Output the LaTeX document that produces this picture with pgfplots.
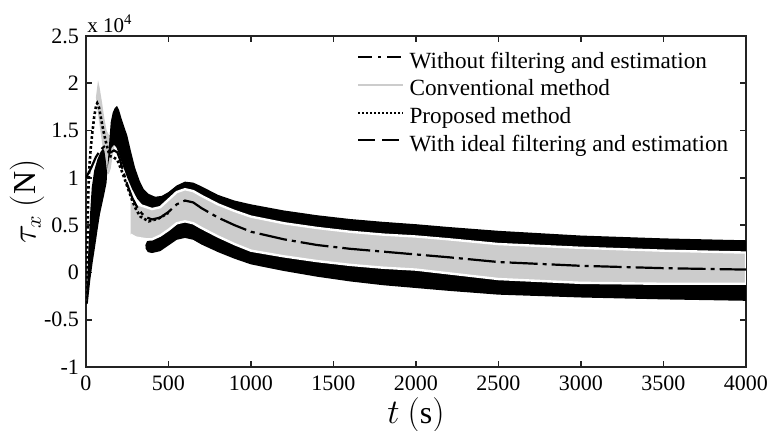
\documentclass[border=0pt]{standalone}
\usepackage{fontspec}
\setmainfont{Liberation Serif}
\usepackage{pgfplots}
\pgfplotsset{compat=1.18}
\definecolor{convgray}{RGB}{204,204,204}
\definecolor{axgray}{RGB}{35,35,35}
\begin{document}
\begin{tikzpicture}
\begin{axis}[
  name=ax, at={(0,0)}, anchor=south west,
  scale only axis, width=330pt, height=165.5pt,
  xmin=0, xmax=4000, ymin=-1, ymax=2.5,
  xtick={0,500,1000,1500,2000,2500,3000,3500,4000},
  xticklabels={0,500,1000,1500,2000,2500,3000,3500,4000},
  ytick={-1,-0.5,0,0.5,1,1.5,2,2.5},
  yticklabels={-1,-0.5,0,0.5,1,1.5,2,2.5},
  tick align=inside, major tick length=3pt,
  axis line style={axgray, line width=0.8pt},
  tick style={axgray, line width=0.8pt},
  ticklabel style={font=\fontsize{11}{13}\selectfont},
  xticklabel style={yshift=-1pt},
  xlabel={$t\ (\mathrm{s})$},
  xlabel style={at={(rel axis cs:0.5,0)}, anchor=center, yshift=-24pt, font=\fontsize{16}{18}\selectfont},
  ylabel={$\tau_x\ (\mathrm{N})$},
  ylabel style={at={([xshift=-29.5pt]rel axis cs:0,0.5)}, anchor=center, rotate=0, font=\fontsize{16}{18}\selectfont},
  legend image code/.code={\draw[#1] (0pt,3pt) -- (22.5pt,3pt);},
  legend cell align=left,
  legend style={at={(rel axis cs:0.4106,0.951)}, anchor=north west, draw=none, fill=none,
    inner sep=0pt, row sep=3pt, column sep=2.5pt,
    font=\fontsize{11.6}{13}\selectfont,
    nodes={inner sep=0pt, text height=7.8pt, text depth=3pt}},
]
\addlegendimage{black, line width=1pt, dash pattern=on 7pt off 3pt on 1.5pt off 3pt}
\addlegendentry{Without filtering and estimation}
\addlegendimage{convgray, line width=1.1pt}
\addlegendentry{Conventional method}
\addlegendimage{black, line width=1pt, dash pattern=on 1pt off 1pt}
\addlegendentry{Proposed method}
\addlegendimage{black, line width=1pt, dash pattern=on 8.5pt off 3.5pt}
\addlegendentry{With ideal filtering and estimation}

% conventional method: early spike
\addplot[forget plot, fill=convgray, draw=none] coordinates {
(60,1.85) (73,2.03) (82,1.96) (97,1.80) (112,1.62) (125,1.50) (140,1.45) (160,1.48)
(175,1.50) (180,1.40) (165,1.28) (150,1.10) (138,1.04) (125,1.05) (110,1.20) (95,1.40) (75,1.65)};

% without filtering: early oscillation envelope
\addplot[forget plot, fill=black, draw=none] coordinates {
(4,-0.34) (9,0.0) (16,0.3) (24,0.6) (35,0.9) (50,1.08) (70,1.20) (90,1.28) (104,1.31)
(112,1.28) (120,1.18) (128,1.05) (125,0.95) (110,0.82) (95,0.70) (85,0.62) (70,0.45)
(55,0.27) (40,0.10) (26,-0.08) (12,-0.31)};

% without filtering: upper envelope band
\addplot[forget plot, fill=black, draw=none] coordinates {
(130,1.10) (140,1.36) (150,1.59) (162,1.69) (175,1.74) (188,1.76) (200,1.72) (215,1.63)
(230,1.55) (250,1.45) (270,1.30) (297,1.11) (325,0.97) (350,0.88) (380,0.83) (420,0.80)
(460,0.81) (500,0.85) (550,0.92) (600,0.96) (650,0.95) (700,0.91) (800,0.82) (900,0.76)
(1000,0.72) (1200,0.655) (1400,0.605) (1600,0.565) (1800,0.535) (2000,0.51) (2200,0.48)
(2500,0.44) (3000,0.39) (3500,0.36) (4000,0.34)
(4000,0.21) (3500,0.23) (3000,0.26) (2500,0.30) (2200,0.35) (2000,0.38) (1800,0.40)
(1600,0.43) (1400,0.47) (1200,0.52) (1000,0.59) (900,0.65) (800,0.72) (700,0.81)
(650,0.86) (600,0.88) (550,0.85) (500,0.77) (450,0.69) (400,0.67) (350,0.70) (310,0.78)
(280,0.88) (250,1.00) (225,1.12) (200,1.25) (185,1.32) (170,1.35) (155,1.32) (140,1.20)};

% without filtering: lower envelope band
\addplot[forget plot, fill=black, draw=none] coordinates {
(360,0.29) (370,0.33) (400,0.35) (450,0.39) (500,0.45) (550,0.52) (600,0.54) (650,0.52)
(700,0.47) (800,0.38) (900,0.30) (1000,0.23) (1200,0.17) (1400,0.12) (1600,0.08)
(1800,0.05) (2000,0.03) (2200,-0.01) (2500,-0.07) (3000,-0.11) (3500,-0.12) (4000,-0.12)
(4000,-0.30) (3500,-0.285) (3000,-0.265) (2500,-0.235) (2200,-0.195) (2000,-0.165)
(1800,-0.135) (1600,-0.095) (1400,-0.045) (1200,0.015) (1000,0.085) (900,0.145) (800,0.215)
(700,0.295) (650,0.345) (600,0.365) (550,0.345) (500,0.285) (450,0.225) (400,0.205) (375,0.215) (362,0.25)};

% conventional method: band
\addplot[forget plot, fill=convgray, draw=white, line width=1.2pt] coordinates {
(270,0.76) (300,0.73) (330,0.71) (350,0.70) (400,0.67) (450,0.69) (500,0.77) (550,0.85)
(600,0.88) (650,0.86) (700,0.81) (800,0.72) (900,0.65) (1000,0.59) (1200,0.52)
(1400,0.47) (1600,0.43) (1800,0.40) (2000,0.38) (2200,0.35) (2500,0.30) (3000,0.26)
(3500,0.23) (4000,0.21)
(4000,-0.12) (3500,-0.12) (3000,-0.11) (2500,-0.07) (2200,-0.01) (2000,0.03)
(1800,0.05) (1600,0.08) (1400,0.12) (1200,0.17) (1000,0.23) (900,0.30) (800,0.38)
(700,0.47) (650,0.52) (600,0.54) (550,0.52) (500,0.45) (450,0.39) (400,0.35) (370,0.35)
(330,0.36) (300,0.37) (270,0.40)};

% proposed method
\addplot[forget plot, black, line width=1.3pt, dash pattern=on 1.3pt off 1.2pt] coordinates {
(3,-0.33) (6,0.0) (10,0.5) (15,0.9) (20,1.1) (28,1.3) (36,1.44) (50,1.65) (62,1.77)
(68,1.79) (78,1.75) (90,1.64) (105,1.50) (118,1.40) (132,1.30) (145,1.23) (165,1.22)
(190,1.19) (215,1.08) (238,0.97) (260,0.86) (280,0.76) (305,0.66) (330,0.59) (380,0.54)
(440,0.57) (500,0.63)};

% without filtering and estimation (mean)
\addplot[forget plot, black, line width=1.1pt, dash pattern=on 14pt off 2.5pt on 2pt off 2.5pt] coordinates {
(0,1.00) (30,1.10) (60,1.22) (90,1.30) (110,1.33) (130,1.30) (150,1.27) (170,1.29)
(190,1.27) (205,1.20) (222,1.09) (250,0.93) (280,0.79) (310,0.69) (340,0.62) (370,0.58)
(400,0.56) (450,0.58) (500,0.64) (550,0.72) (600,0.76) (650,0.74) (700,0.68) (800,0.58)
(900,0.50) (1000,0.43) (1200,0.35) (1400,0.29) (1600,0.25) (1800,0.22) (2000,0.19)
(2200,0.16) (2500,0.11) (3000,0.07) (3500,0.045) (4000,0.03)};
\end{axis}
\node[anchor=base west, font=\fontsize{10.5}{12}\selectfont, inner sep=0pt] at ([xshift=0.5pt, yshift=2pt]ax.north west) {x 10\textsuperscript{4}};
\pgfresetboundingbox
\path[use as bounding box] (-43pt,-31.5pt) rectangle (346pt,183.5pt);
\end{tikzpicture}
\end{document}
